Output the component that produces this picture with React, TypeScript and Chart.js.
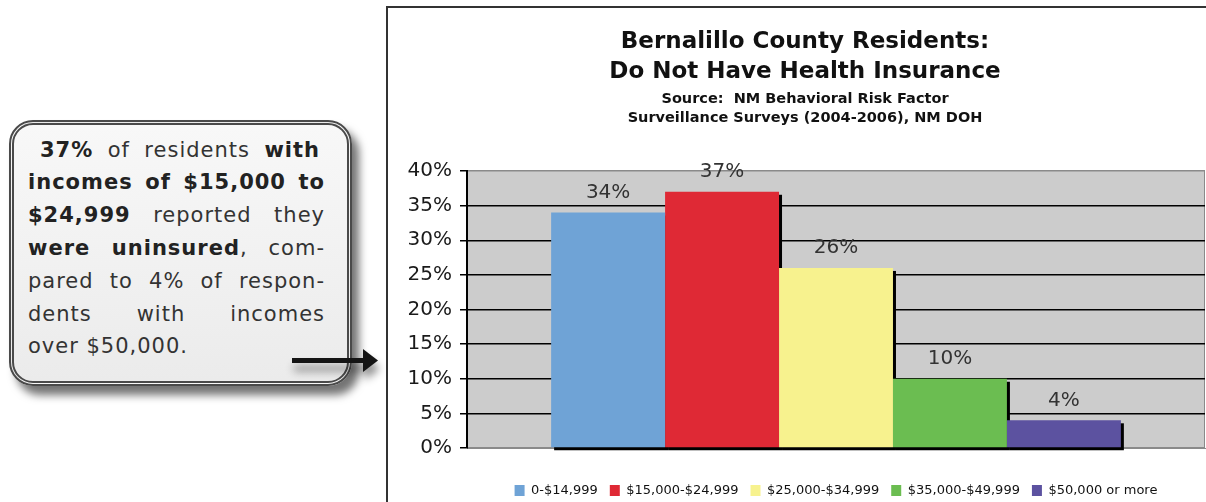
import React, { useEffect, useRef } from 'react';
import { Chart, registerables } from 'chart.js';

Chart.register(...registerables);

// ---- data ----
const incomeGroups = ['0-$14,999', '$15,000-$24,999', '$25,000-$34,999', '$35,000-$49,999', '$50,000 or more'];
const uninsuredPct = [34, 37, 26, 10, 4];
const barColors = ['#6fa3d6', '#df2935', '#f7f28e', '#6bbd51', '#5c52a0'];
const yMax = 40;
const yStep = 5;
const titleLines = ['Bernalillo County Residents:', 'Do Not Have Health Insurance'];
const sourceLines = ['Source:  NM Behavioral Risk Factor', 'Surveillance Surveys (2004-2006), NM DOH'];
const calloutLines: Array<Array<[string, boolean]>> = [
  [['37%', true], [' of residents ', false], ['with', true]],
  [['incomes of $15,000 to', true]],
  [['$24,999', true], [' reported they', false]],
  [['were uninsured', true], [', com-', false]],
  [['pared to 4% of respon-', false]],
  [['dents with incomes', false]],
  [['over $50,000.', false]],
];

const plotBgPlugin = {
  id: 'plotBg',
  beforeDraw(chart: any) {
    const { ctx, chartArea: a } = chart;
    ctx.save();
    ctx.fillStyle = '#cccccc';
    ctx.fillRect(a.left, a.top, a.right - a.left, a.bottom - a.top);
    ctx.strokeStyle = '#8a8a8a';
    ctx.lineWidth = 1;
    ctx.beginPath();
    ctx.moveTo(a.right - 0.5, a.top);
    ctx.lineTo(a.right - 0.5, a.bottom);
    ctx.stroke();
    ctx.restore();
  },
};

const shadowPlugin = {
  id: 'barShadow',
  beforeDatasetsDraw(chart: any) {
    const ctx = chart.ctx;
    ctx.save();
    ctx.fillStyle = '#000';
    chart.data.datasets.forEach((_d: any, i: number) => {
      const meta = chart.getDatasetMeta(i);
      meta.data.forEach((bar: any) => {
        const { x, y, base, width } = bar.getProps(['x', 'y', 'base', 'width'], true);
        ctx.fillRect(x - width / 2 + 3, y + 3, width, base - y);
      });
    });
    ctx.restore();
  },
};

const valueLabelPlugin = {
  id: 'valueLabels',
  afterDatasetsDraw(chart: any) {
    const ctx = chart.ctx;
    ctx.save();
    ctx.fillStyle = '#333';
    ctx.font = '20px "DejaVu Sans", Verdana, sans-serif';
    ctx.textAlign = 'center';
    ctx.textBaseline = 'middle';
    chart.data.datasets.forEach((d: any, i: number) => {
      const meta = chart.getDatasetMeta(i);
      meta.data.forEach((bar: any, j: number) => {
        const { x, y } = bar.getProps(['x', 'y'], true);
        ctx.fillText(`${d.data[j]}%`, x, y - 20);
      });
    });
    ctx.restore();
  },
};

const placeBoxesPlugin = {
  id: 'placeBoxes',
  afterLayout(chart: any) {
    const a = chart.chartArea;
    const lg = chart.legend;
    if (lg && a) {
      lg.left = a.left;
      lg.right = a.right;
      lg.width = a.right - a.left;
    }
    chart.boxes.forEach((b: any) => {
      if (b !== lg && b.position === 'top') {
        b.left = 0;
        b.right = chart.width;
        b.width = chart.width;
      }
    });
  },
};

export default function App() {
  const ref = useRef<HTMLCanvasElement>(null);

  useEffect(() => {
    const chart = new Chart(ref.current!, {
      type: 'bar',
      data: {
        labels: [''],
        datasets: incomeGroups.map((g, i) => ({
          label: g,
          data: [uninsuredPct[i]],
          backgroundColor: barColors[i],
          borderWidth: 0,
          categoryPercentage: 0.772,
          barPercentage: 1,
        })),
      },
      options: {
        responsive: false,
        animation: false,
        layout: { padding: { left: 0, right: 17, top: 0, bottom: 0 } },
        plugins: {
          tooltip: { enabled: false },
          title: {
            display: true,
            text: titleLines,
            color: '#111',
            font: { family: '"DejaVu Sans", Verdana, sans-serif', weight: 'bold', size: 23, lineHeight: '30px' },
            padding: { top: 18, bottom: 0 },
          },
          subtitle: {
            display: true,
            text: sourceLines,
            color: '#111',
            font: { family: '"DejaVu Sans", Verdana, sans-serif', weight: 'bold', size: 14.5, lineHeight: '19px' },
            padding: { top: 2.5, bottom: 43.5 },
          },
          legend: {
            display: true,
            position: 'bottom',
            labels: {
              color: '#111',
              font: { family: '"DejaVu Sans", Verdana, sans-serif', size: 13 },
              boxWidth: 10,
              boxHeight: 11,
              padding: 12,
            },
          },
        },
        scales: {
          x: {
            grid: { display: false, drawTicks: false },
            ticks: { display: false },
            border: { display: true, color: '#8a8a8a', width: 1 },
            afterFit: (s: any) => { s.height = 24; },
          },
          y: {
            min: 0,
            max: yMax,
            ticks: {
              stepSize: yStep,
              color: '#1a1a1a',
              padding: 8,
              font: { family: '"DejaVu Sans", Verdana, sans-serif', size: 20 },
              callback: (v: any) => `${v}%`,
            },
            grid: {
              color: (c: any) => (c.tick && (c.tick.value === yMax || c.tick.value === 0) ? '#8a8a8a' : '#000'),
              tickColor: '#000',
              lineWidth: 1.5,
              tickLength: 7,
            },
            border: { display: true, color: '#000', width: 2 },
            afterFit: (s: any) => { s.width = 79; },
          },
        },
      },
      plugins: [plotBgPlugin, shadowPlugin, valueLabelPlugin, placeBoxesPlugin],
    } as any);
    return () => chart.destroy();
  }, []);

  return (
    <div style={{ position: 'fixed', left: 0, top: 0, width: 1206, height: 502, overflow: 'hidden', background: '#fff' }}>
      {/* callout */}
      <div
        style={{
          position: 'absolute', left: 9, top: 120, width: 343, height: 266, boxSizing: 'border-box',
          border: '5px double #4a4a4a', borderRadius: 24,
          background: 'linear-gradient(to bottom, #f8f8f8, #ebebeb)',
          boxShadow: '7px 9px 9px rgba(0,0,0,0.55)',
          paddingTop: 8.6, paddingLeft: 14, paddingRight: 22,
          fontFamily: '"DejaVu Sans", Verdana, sans-serif', fontSize: 21, letterSpacing: 1, color: '#333',
        }}
      >
        {calloutLines.map((line, i) => (
          <div
            key={i}
            style={{
              height: 32.8, lineHeight: '32.8px',
              textAlign: 'justify',
              textAlignLast: i === calloutLines.length - 1 ? 'left' : 'justify',
              paddingLeft: i === 0 ? 12 : 0, paddingRight: i === 0 ? 5 : 0,
            } as any}
          >
            {line.map(([t, b], k) => (
              <span key={k} style={{ fontWeight: b ? 700 : 400, color: b ? '#222' : '#333' }}>{t}</span>
            ))}
          </div>
        ))}
      </div>
      {/* arrow */}
      <svg width={95} height={34} style={{ position: 'absolute', left: 288, top: 344, overflow: 'visible', filter: 'drop-shadow(2px 8px 4px rgba(0,0,0,0.45))' }}>
        <rect x={4} y={14} width={74} height={5} fill="#151515" />
        <polygon points="75,5 90,16.5 75,28" fill="#151515" />
      </svg>
      {/* chart frame */}
      <div style={{ position: 'absolute', left: 386, top: 6, width: 900, height: 600, border: '2px solid #333', boxSizing: 'border-box' }} />
      <canvas ref={ref} width={834} height={498} style={{ position: 'absolute', left: 388, top: 9, width: 834, height: 498 }} />
    </div>
  );
}
